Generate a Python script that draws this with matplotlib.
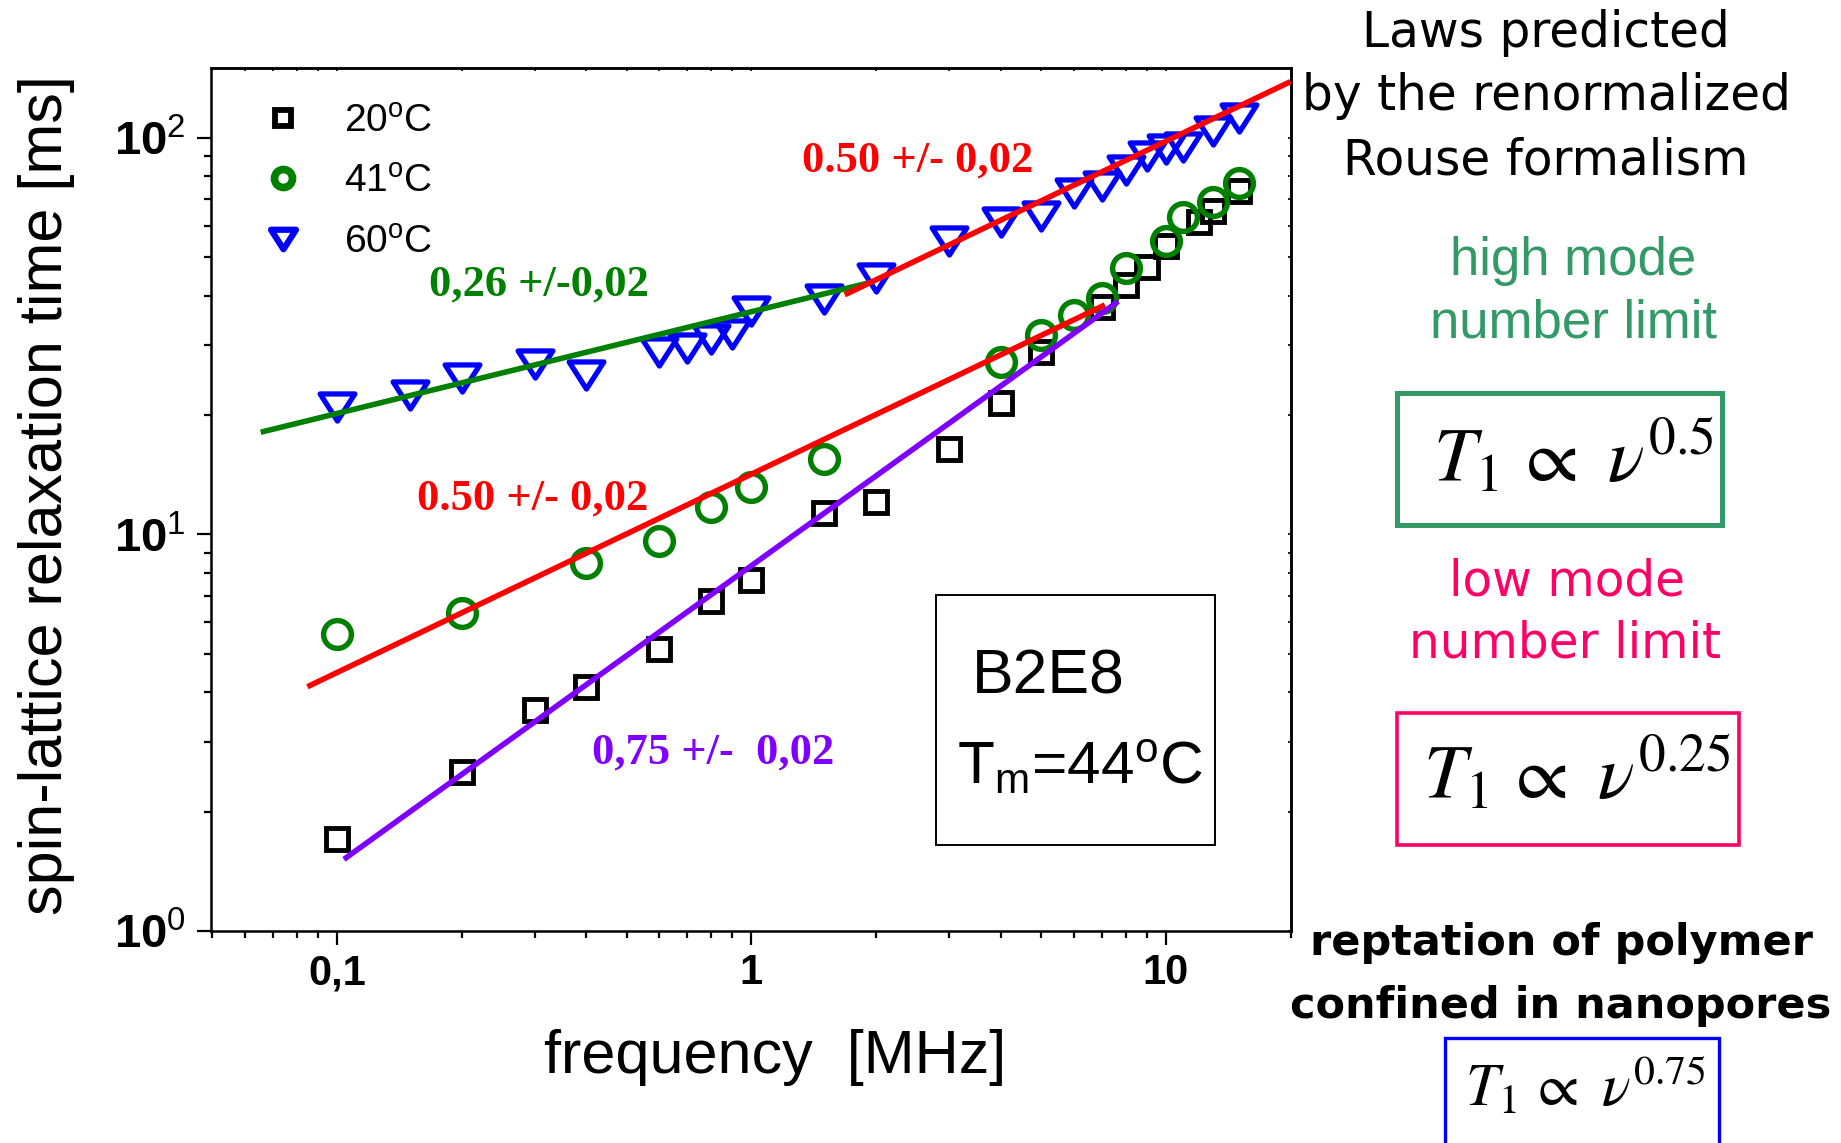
import matplotlib
matplotlib.use('Agg')
import matplotlib.pyplot as plt
from matplotlib.lines import Line2D
from matplotlib.patches import Rectangle
from matplotlib.path import Path
from matplotlib.ticker import LogLocator, NullFormatter, FixedLocator

# ---------------- data ----------------
freq_20C = [0.1, 0.2, 0.3, 0.4, 0.6, 0.8, 1.0, 1.5, 2.0, 3.0, 4.0, 5.0, 7.0, 8.0, 9.0, 10.0, 12.0, 13.0, 15.0]
t1_20C = [1.71, 2.51, 3.6, 4.13, 5.14, 6.8, 7.69, 11.3, 12.1, 16.4, 21.5, 28.9, 37.5, 42.5, 47.2, 53.5, 61.3, 65.3, 73.5]

freq_41C = [0.1, 0.2, 0.4, 0.6, 0.8, 1.0, 1.5, 4.0, 5.0, 6.0, 7.0, 8.0, 10.0, 11.0, 13.0, 15.0]
t1_41C = [5.62, 6.35, 8.46, 9.6, 11.7, 13.15, 15.45, 27.2, 31.8, 35.8, 39.5, 47.0, 55.0, 63.2, 69.0, 76.8]

freq_60C = [0.1, 0.15, 0.2, 0.3, 0.4, 0.6, 0.7, 0.8, 0.9, 1.0, 1.5, 2.0, 3.0, 4.0, 5.0, 6.0, 7.0, 8.0, 9.0, 10.0, 11.0, 13.0, 15.0]
t1_60C = [21.0, 22.5, 24.8, 26.9, 25.2, 28.9, 29.6, 31.1, 32.0, 36.5, 39.3, 44.3, 55.0, 61.5, 63.5, 72.8, 75.5, 83.0, 90.0, 93.5, 95.0, 104.0, 112.0]

series_labels = ['20$^{\\rm o}$C', '41$^{\\rm o}$C', '60$^{\\rm o}$C']

# power-law fit lines (end points)
fit_026_x = [0.0655, 1.96]
fit_026_y = [18.1, 43.3]
fit_050hi_x = [1.68, 20.0]
fit_050hi_y = [40.2, 138.6]
fit_050lo_x = [0.0849, 7.13]
fit_050lo_y = [4.13, 37.9]
fit_075_x = [0.104, 7.68]
fit_075_y = [1.516, 38.7]

fit_labels = ['0,26 +/-0,02', '0.50 +/- 0,02', '0.50 +/- 0,02', '0,75 +/-  0,02']

xtick_vals = [0.1, 1, 10]
xtick_labels = ['0,1', '1', '10']
ytick_vals = [1, 10, 100]
ytick_labels = [r'$\mathbf{10}^{0}$', r'$\mathbf{10}^{1}$', r'$\mathbf{10}^{2}$']

# ---------------- style ----------------
plt.rcParams['font.family'] = ['Liberation Sans', 'DejaVu Sans']
plt.rcParams['mathtext.fontset'] = 'custom'
plt.rcParams['mathtext.rm'] = 'Liberation Sans'
plt.rcParams['mathtext.it'] = 'Liberation Sans:italic'
plt.rcParams['mathtext.bf'] = 'Liberation Sans:bold'

W, H = 1841, 1143
fig = plt.figure(figsize=(W / 100, H / 100), dpi=100)


def fx(x):
    return x / W


def fy(y):
    return 1 - y / H


ax = fig.add_axes([fx(211), fy(931), (1291 - 211) / W, (931 - 68) / H])
ax.set_xscale('log')
ax.set_yscale('log')
ax.set_xlim(0.0497, 20.05)
ax.set_ylim(1, 150)

GREEN = '#008000'
RED = '#ff0000'
PURPLE = '#8000ff'
BLUE = '#0000ff'

tri_down = Path([(-1, 0.78), (1, 0.78), (0, -0.78), (-1, 0.78)],
                [Path.MOVETO, Path.LINETO, Path.LINETO, Path.CLOSEPOLY])

ax.plot(freq_20C, t1_20C, ls='none', marker='s', ms=16, mfc='none', mec='black', mew=3.5, zorder=3)
ax.plot(freq_41C, t1_41C, ls='none', marker='o', ms=20, mfc='none', mec=GREEN, mew=3.9, zorder=3.1)
ax.plot(freq_60C, t1_60C, ls='none', marker=tri_down, ms=25, mfc='none', mec=BLUE, mew=3.8, zorder=3.2)

ax.plot(fit_026_x, fit_026_y, color=GREEN, lw=4.0, zorder=4, solid_capstyle='butt')
ax.plot(fit_050hi_x, fit_050hi_y, color=RED, lw=4.0, zorder=4, solid_capstyle='butt')
ax.plot(fit_050lo_x, fit_050lo_y, color=RED, lw=4.0, zorder=4, solid_capstyle='butt')
ax.plot(fit_075_x, fit_075_y, color=PURPLE, lw=4.0, zorder=4, solid_capstyle='butt')

# ticks
ax.xaxis.set_major_locator(FixedLocator(xtick_vals))
ax.set_xticklabels(xtick_labels, fontweight='bold', fontsize=30)
ax.xaxis.set_minor_locator(LogLocator(base=10, subs=range(2, 10)))
ax.xaxis.set_minor_formatter(NullFormatter())
ax.yaxis.set_major_locator(FixedLocator(ytick_vals))
ax.set_yticklabels(ytick_labels, fontsize=34)
ax.yaxis.set_minor_locator(LogLocator(base=10, subs=range(2, 10)))
ax.yaxis.set_minor_formatter(NullFormatter())
ax.tick_params(which='major', direction='out', length=10, width=1.6, top=False, right=False)
ax.tick_params(which='minor', direction='out', length=5, width=1.6, top=False, right=False)
ax.tick_params(axis='x', which='major', pad=6)
ax.tick_params(axis='y', which='major', pad=8)
for s in ax.spines.values():
    s.set_linewidth(1.8)

secx = ax.secondary_xaxis('top')
secx.xaxis.set_major_locator(FixedLocator(xtick_vals))
secx.xaxis.set_minor_locator(LogLocator(base=10, subs=range(2, 10)))
secx.tick_params(which='both', direction='in', length=2.5, width=1.2, labeltop=False)
secx.spines['top'].set_linewidth(1.8)
secy = ax.secondary_yaxis('right')
secy.yaxis.set_major_locator(FixedLocator(ytick_vals))
secy.yaxis.set_minor_locator(LogLocator(base=10, subs=range(2, 10)))
secy.tick_params(which='both', direction='in', length=2.5, width=1.2, labelright=False)
secy.spines['right'].set_linewidth(1.8)

# legend
handles = [
    Line2D([], [], ls='none', marker='s', ms=11.5, mfc='none', mec='black', mew=4.2),
    Line2D([], [], ls='none', marker='o', ms=13, mfc='none', mec=GREEN, mew=5.5),
    Line2D([], [], ls='none', marker=tri_down, ms=18, mfc='none', mec=BLUE, mew=4.5),
]
ax.legend(handles, series_labels, loc='upper left', bbox_to_anchor=(fx(264), fy(104)),
          bbox_transform=fig.transFigure, frameon=False, fontsize=28, handlelength=1.0,
          handletextpad=1.05, labelspacing=0.62, borderpad=0, borderaxespad=0)

# axis labels
fig.text(fx(47), fy(495), 'spin-lattice relaxation time [ms]', rotation=90, fontsize=44,
         ha='center', va='center')
fig.text(fx(775), fy(1057), 'frequency  [MHz]', fontsize=44, ha='center', va='center')

# fit labels
serif = dict(fontfamily='Liberation Serif', fontweight='bold', fontsize=32, ha='center', va='center')
fig.text(fx(539), fy(285), fit_labels[0], color=GREEN, **serif)
fig.text(fx(918), fy(161), fit_labels[1], color=RED, **serif)
fig.text(fx(533), fy(499), fit_labels[2], color=RED, **serif)
fig.text(fx(713), fy(753), fit_labels[3], color=PURPLE, **serif)

# sample box
fig.add_artist(Rectangle((fx(936), fy(845)), (1215 - 936) / W, (845 - 595) / H,
                         transform=fig.transFigure, fill=False, lw=1.4, ec='black'))
fig.text(fx(972), fy(693), 'B2E8', fontsize=45, ha='left', va='baseline')
fig.text(fx(957), fy(784), 'T$_{\\rm m}$=44$^{\\rm o}$C', fontsize=43.5, ha='left', va='baseline')

# right-hand annotations
comic = dict(fontfamily='DejaVu Sans', fontsize=35, ha='center', va='center')
fig.text(fx(1546), fy(33), 'Laws predicted', **comic)
fig.text(fx(1546), fy(96), 'by the renormalized', **comic)
fig.text(fx(1546), fy(161), 'Rouse formalism', **comic)

SEA = '#339966'
PINK = '#ff0066'
fig.text(fx(1573), fy(261), 'high mode', color=SEA, fontsize=38, ha='center', va='center')
fig.text(fx(1573), fy(324), 'number limit', color=SEA, fontsize=38, ha='center', va='center')
fig.add_artist(Rectangle((fx(1397), fy(525)), (1722 - 1397) / W, (525 - 393) / H,
                         transform=fig.transFigure, fill=False, lw=3.6, ec=SEA))
fig.text(fx(1573), fy(458), r'$T_1\,\propto\ \nu^{0.5}$', math_fontfamily='stix', fontsize=55,
         ha='center', va='center')

fig.text(fx(1567), fy(581), 'low mode', color=PINK, **comic)
fig.text(fx(1565), fy(643), 'number limit', color=PINK, **comic)
fig.add_artist(Rectangle((fx(1397), fy(845)), (1739 - 1397) / W, (845 - 713) / H,
                         transform=fig.transFigure, fill=False, lw=2.6, ec=PINK))
fig.text(fx(1577), fy(775), r'$T_1\,\propto\ \nu^{0.25}$', math_fontfamily='stix', fontsize=55,
         ha='center', va='center')

bold_comic = dict(fontfamily='DejaVu Sans', fontweight='bold', fontsize=31, ha='center', va='center')
fig.text(fx(1561), fy(943), 'reptation of polymer', **bold_comic)
fig.text(fx(1561), fy(1006), 'confined in nanopores', **bold_comic)
fig.add_artist(Rectangle((fx(1445), fy(1160)), (1719 - 1445) / W, (1160 - 1038) / H,
                         transform=fig.transFigure, fill=False, lw=2.4, ec=BLUE))
fig.text(fx(1585), fy(1086), r'$T_1\,\propto\ \nu^{0.75}$', math_fontfamily='stix', fontsize=43,
         ha='center', va='center')

fig.savefig('out.png', dpi=100)
